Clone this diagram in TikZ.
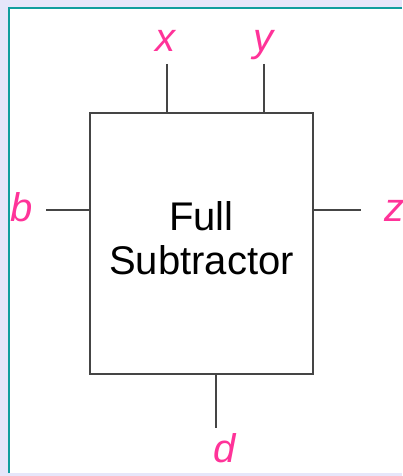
\documentclass[tikz,border=0pt]{standalone}
\usepackage{fontspec}
\setmainfont{Liberation Sans}
\usepackage{tikz}
\usetikzlibrary{positioning}
\definecolor{sigpink}{HTML}{FF3399}
\definecolor{frameteal}{HTML}{119E9E}
\definecolor{pagelav}{HTML}{E6E6FA}
\definecolor{wiregray}{HTML}{454545}
\tikzset{
  sig/.style={sigpink, font=\fontsize{40}{44}\selectfont\itshape, inner sep=0pt, anchor=base},
  wire/.style={wiregray, line width=1.3pt},
  block/.style={draw=wiregray, line width=1.3pt, inner sep=0pt, minimum width=223pt, minimum height=261pt}
}
\begin{document}
\begin{tikzpicture}[x=1pt, y=-1pt]
    \useasboundingbox (0,0) rectangle (402,476);
    \fill[pagelav] (0,0) rectangle (402,476);
    \fill[white] (9,9) rectangle (402,473);
    \draw[frameteal, line width=2pt] (8.5,473) -- (8.5,8) -- (402,8);
    % the block
    \node[block] (fs) at (201.5,243.5) {};
    \node[align=center, font=\fontsize{40}{44.3}\selectfont, inner sep=0pt]
      (fstext) at (201.5,238.2) {Full\\Subtractor};
    % inputs on top
    \coordinate (xend) at (167,64);
    \coordinate (yend) at (264,64);
    \draw[wire] (xend) -- (fs.north -| xend);
    \draw[wire] (yend) -- (fs.north -| yend);
    \node[sig] (xlbl) at (165,52) {x};
    \node[sig] (ylbl) at (263,52) {y};
    % borrow in, difference, borrow out
    \coordinate (bend) at (46,210);
    \coordinate (zend) at (361,210);
    \coordinate (dend) at (216,428);
    \draw[wire] (bend) -- (fs.west |- bend);
    \draw[wire] (fs.east |- zend) -- (zend);
    \draw[wire] (fs.south -| dend) -- (dend);
    \node[sig] (blbl) at (22,221) {b};
    \node[sig, anchor=base west] (zlbl) at (384,221) {z};
    \node[sig] (dlbl) at (225,462) {d};
\end{tikzpicture}
\end{document}
